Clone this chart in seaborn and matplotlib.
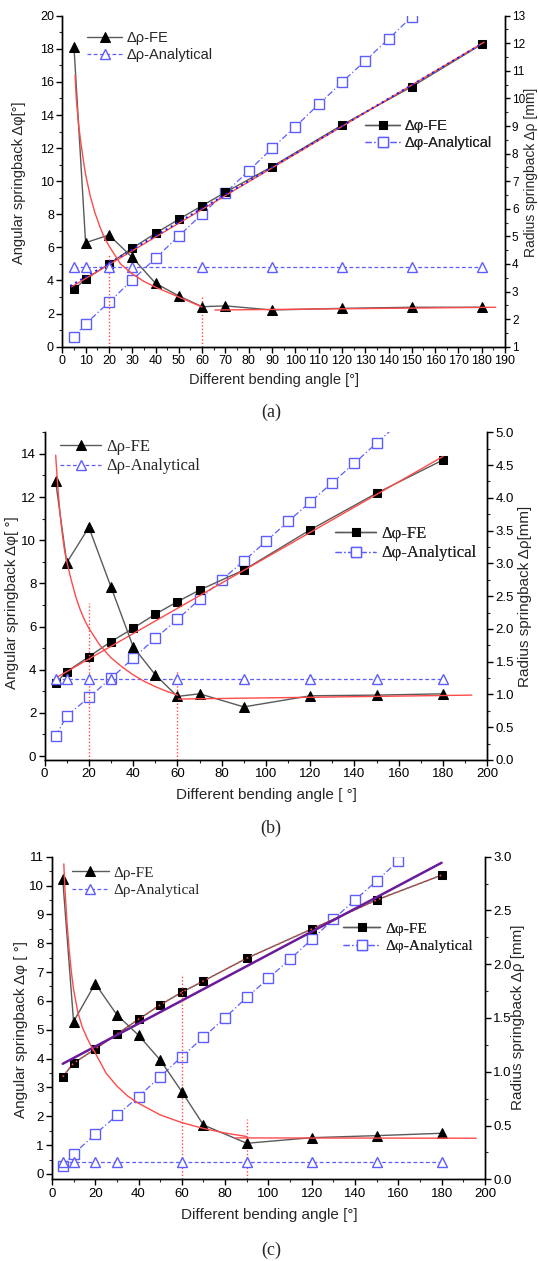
import matplotlib
matplotlib.use("Agg")
import matplotlib.pyplot as plt
import seaborn as sns
from matplotlib.ticker import MultipleLocator

sns.set_style("ticks")
plt.rcParams['font.family'] = ['Liberation Sans', 'DejaVu Sans']

W, H = 538, 1261

# ---------------- data ----------------
ANG_FE = [5, 10, 20, 30, 40, 50, 60, 70, 90, 120, 150, 180]
ANG_RHO_AN = [5, 10, 20, 30, 60, 90, 120, 150, 180]

# panel (a)
a_phi_fe = [3.47, 4.07, 5.00, 5.95, 6.85, 7.70, 8.52, 9.33, 10.88, 13.39, 15.71, 18.27]
a_phi_an_ang = [5, 10, 20, 30, 40, 50, 60, 70, 80, 90, 100, 110, 120, 130, 140, 150]
a_phi_an = [0.60, 1.38, 2.68, 4.03, 5.34, 6.69, 8.02, 9.30, 10.63, 11.98, 13.29, 14.64,
            15.97, 17.28, 18.59, 19.94]
a_rho_fe = [11.88, 4.77, 5.05, 4.24, 3.30, 2.84, 2.45, 2.48, 2.33, 2.39, 2.43, 2.43]
a_rho_an = [3.90, 3.90, 3.90, 3.90, 3.90, 3.90, 3.90, 3.90, 3.90]
a_rho_fit_ang = [5.5, 6, 7, 8, 9, 10, 12, 14, 16, 18, 20, 25, 30, 35, 40, 45, 50, 55, 60]
a_rho_fit = [10.84, 10.0, 9.04, 8.38, 7.78, 7.24, 6.46, 5.86, 5.38, 4.96, 4.66, 4.0, 3.64,
             3.37, 3.16, 2.98, 2.8, 2.62, 2.44]
a_rho_tail_ang = [65.5, 186]
a_rho_tail = [2.33, 2.43]
a_phi_fit_ang = [4, 181]
a_phi_fit = [3.62, 18.4]
a_phi_fit2_ang = [3.4, 180]
a_phi_fit2 = [3.67, 18.3]
a_vline_ang = [20, 60]
a_vline_top = [5.54, 3.12]

# panel (b)
b_phi_fe = [3.37, 3.91, 4.60, 5.30, 5.92, 6.57, 7.15, 7.69, 8.62, 10.48, 12.18, 13.72]
b_phi_an_ang = [5, 10, 20, 30, 40, 50, 60, 70, 80, 90, 100, 110, 120, 130, 140, 150, 160]
b_phi_an = [0.93, 1.85, 2.72, 3.60, 4.53, 5.45, 6.33, 7.26, 8.16, 9.04, 9.94, 10.87, 11.76,
            12.67, 13.57, 14.50, 15.42]
b_rho_fe = [4.25, 3.01, 3.55, 2.64, 1.73, 1.30, 0.97, 1.01, 0.81, 0.98, 0.99, 1.01]
b_rho_an = [1.23, 1.23, 1.23, 1.23, 1.23, 1.23, 1.23, 1.23, 1.23]
b_rho_fit_ang = [5, 6, 7, 8, 9, 10, 12, 14, 16, 18, 20, 25, 30, 35, 40, 45, 50, 55, 60]
b_rho_fit = [4.65, 4.15, 3.75, 3.45, 3.2, 3.03, 2.75, 2.5, 2.3, 2.14, 2.01, 1.75, 1.56,
             1.42, 1.30, 1.2, 1.12, 1.05, 0.99]
b_rho_tail_ang = [60.5, 193]
b_rho_tail = [0.93, 0.99]
b_phi_fit_ang = [4.7, 180]
b_phi_fit = [3.6, 13.88]
b_vline_ang = [20, 60]
b_vline_top = [7.1, 3.95]

# panel (c)
c_phi_fe = [3.37, 3.84, 4.33, 4.85, 5.36, 5.86, 6.30, 6.69, 7.48, 8.49, 9.50, 10.36]
c_phi_an_ang = [5, 10, 20, 30, 40, 50, 60, 70, 80, 90, 100, 110, 120, 130, 140, 150, 160]
c_phi_an = [0.28, 0.69, 1.38, 2.03, 2.68, 3.37, 4.07, 4.74, 5.42, 6.12, 6.78, 7.45, 8.13,
            8.83, 9.50, 10.16, 10.85]
c_rho_fe = [2.79, 1.466, 1.82, 1.53, 1.34, 1.11, 0.815, 0.505, 0.335, 0.387, 0.406, 0.428]
c_rho_an = [0.164, 0.164, 0.164, 0.164, 0.164, 0.164, 0.164, 0.164, 0.164]
c_rho_fit_ang = [5.5, 6, 7, 8, 9, 10, 12, 14, 16, 18, 20, 25, 30, 35, 40, 50, 60, 70, 80, 90]
c_rho_fit = [2.933, 2.705, 2.383, 2.128, 1.927, 1.766, 1.552, 1.417, 1.324, 1.243, 1.176,
             0.988, 0.868, 0.774, 0.707, 0.599, 0.527, 0.473, 0.430, 0.398]
c_rho_tail_ang = [85, 196]
c_rho_tail = [0.385, 0.382]
c_phi_lin_ang = [5, 180]
c_phi_lin = [3.82, 10.79]
c_vline_ang = [60, 90]
c_vline_top = [6.93, 1.9]

LEG_RHO = ["Δρ-FE", "Δρ-Analytical"]
LEG_PHI = ["Δφ-FE", "Δφ-Analytical"]

# ---------------- styles ----------------
GRAY = "#5a5a5a"
BLUE = "#5c5cff"
RED = "#ff4a4a"

fig = plt.figure(figsize=(W / 100, H / 100), dpi=100)


def fx(px):
    return px / W


def fy(py):
    return 1 - py / H


def rect(l, t, r, b):
    return [fx(l), fy(b), (r - l) / W, (b - t) / H]


def line(ax, x, y, **kw):
    sns.lineplot(x=x, y=y, ax=ax, sort=False, estimator=None, legend=False, **kw)
    return ax.get_lines()[-1]


def panel(r, xlim, xmaj, xmin, ylim, ymaj, ymin, y2lim, y2maj, y2min, fmt2, lsize=9.5):
    ax = fig.add_axes(rect(*r))
    ax2 = ax.twinx()
    ax.set_xlim(*xlim)
    ax.set_ylim(*ylim)
    ax2.set_ylim(*y2lim)
    ax.xaxis.set_major_locator(MultipleLocator(xmaj))
    ax.xaxis.set_minor_locator(MultipleLocator(xmin))
    ax.yaxis.set_major_locator(MultipleLocator(ymaj))
    ax.yaxis.set_minor_locator(MultipleLocator(ymin))
    ax2.yaxis.set_major_locator(MultipleLocator(y2maj))
    ax2.yaxis.set_minor_locator(MultipleLocator(y2min))
    if fmt2:
        ax2.yaxis.set_major_formatter(matplotlib.ticker.FormatStrFormatter(fmt2))
    for a in (ax, ax2):
        a.spines['top'].set_visible(False)
        for s in a.spines.values():
            s.set_linewidth(1.0)
            s.set_color('black')
        a.tick_params(which='major', direction='out', length=4, width=1,
                      labelsize=lsize, pad=2, colors='black')
        a.tick_params(which='minor', direction='out', length=2.5, width=0.8)
    ax.set_facecolor('white')
    return ax, ax2


def draw(ax, ax2, phi_fe, phi_an_ang, phi_an, rho_fe, rho_an):
    h_phi_an = line(ax, phi_an_ang, phi_an, color=BLUE, lw=0.9, linestyle=(0, (5, 2, 1, 2)),
                    marker='s', markersize=6.5, mfc='white', mec=BLUE, mew=1.0)
    h_phi_fe = line(ax, ANG_FE, phi_fe, color=GRAY, lw=1.0, marker='s', markersize=6,
                    mfc='black', mec='black')
    h_rho_an = line(ax2, ANG_RHO_AN, rho_an, color=BLUE, lw=0.9, linestyle=(0, (3, 2)),
                    marker='^', markersize=7.5, mfc='white', mec=BLUE, mew=1.0)
    h_rho_fe = line(ax2, ANG_FE, rho_fe, color=GRAY, lw=1.0, marker='^', markersize=7.5,
                    mfc='black', mec='black')
    return h_rho_fe, h_rho_an, h_phi_fe, h_phi_an


def legend(ax, handles, labels, x, y1, y2, size, family, hpx, padpx):
    fs = size * 100 / 72
    leg = ax.legend(handles, labels, loc='center left',
                    bbox_to_anchor=(fx(x), fy((y1 + y2) / 2)), bbox_transform=fig.transFigure,
                    frameon=False, borderpad=0, borderaxespad=0, numpoints=1,
                    handlelength=hpx / fs, handletextpad=padpx / fs,
                    labelspacing=max((y2 - y1) - 1.15 * fs, 0) / fs,
                    prop={'family': family, 'size': size})
    ax.add_artist(leg)


def labels(ax, ax2, xl, xpos, yl, ypos, y2l, y2pos, size, size2=None):
    ax.set_xlabel(xl, fontsize=size, va='center', ha='center')
    ax.xaxis.set_label_coords(fx(xpos[0]), fy(xpos[1]), transform=fig.transFigure)
    ax.set_ylabel(yl, fontsize=size, va='center', ha='center')
    ax.yaxis.set_label_coords(fx(ypos[0]), fy(ypos[1]), transform=fig.transFigure)
    ax2.set_ylabel(y2l, fontsize=size2 or size, va='center', ha='center', rotation=90)
    ax2.yaxis.set_label_coords(fx(y2pos[0]), fy(y2pos[1]), transform=fig.transFigure)


# ================= panel (a) =================
ax, ax2 = panel((62.3, 15.7, 505, 346.7), (0, 190), 10, 5, (0, 20), 2, 1, (1, 13), 1, 0.5, None,
                lsize=9)
ax2.tick_params(which='major', pad=1.5, length=3.5, labelsize=8.5)
ax2.tick_params(which='minor', length=2.2)
h = draw(ax, ax2, a_phi_fe, a_phi_an_ang, a_phi_an, a_rho_fe, a_rho_an)
line(ax, a_phi_fit_ang, a_phi_fit, color=RED, lw=1.0)
line(ax, a_phi_fit2_ang, a_phi_fit2, color='#1a1aff', lw=1.4, linestyle=(0, (1, 2)))
line(ax2, a_rho_fit_ang, a_rho_fit, color=RED, lw=1.0)
line(ax2, a_rho_tail_ang, a_rho_tail, color=RED, lw=1.0)
ax.vlines(a_vline_ang, 0, a_vline_top, colors=RED, linestyles=(0, (1, 1.5)), lw=1.0)
legend(ax2, h[:2], LEG_RHO, 87, 36.7, 56, 10.5, 'Liberation Sans', 35, 5)
legend(ax2, h[2:], LEG_PHI, 365, 125, 144, 10.5, 'Liberation Sans', 35, 5)
labels(ax, ax2, "Different bending angle [°]", (274, 380), "Angular springback Δφ[°]", (19, 183),
       "Radius springback Δρ [mm]", (531, 172), 10.5, size2=10)
fig.text(fx(271), fy(412), "(a)", family='Liberation Serif', fontsize=13, ha='center', va='center')

# ================= panel (b) =================
ax, ax2 = panel((44.6, 432.3, 487.3, 760), (0, 200), 20, 10, (-0.185, 15), 2, 1, (0, 5), 0.5, 0.25, '%.1f')
h = draw(ax, ax2, b_phi_fe, b_phi_an_ang, b_phi_an, b_rho_fe, b_rho_an)
line(ax, b_phi_fit_ang, b_phi_fit, color=RED, lw=1.0)
line(ax2, b_rho_fit_ang, b_rho_fit, color=RED, lw=1.0)
line(ax2, b_rho_tail_ang, b_rho_tail, color=RED, lw=1.0)
ax.vlines(b_vline_ang, -0.185, b_vline_top, colors=RED, linestyles=(0, (1, 1.5)), lw=1.0)
legend(ax2, h[:2], LEG_RHO, 60, 445, 468, 12, 'Liberation Serif', 41, 5)
legend(ax2, h[2:], LEG_PHI, 335, 532, 555, 12, 'Liberation Serif', 41, 5)
labels(ax, ax2, "Different bending angle [ °]", (266, 795), "Angular springback Δφ[ °]", (12, 603),
       "Radius springback Δρ[mm]", (525, 596), 11)
fig.text(fx(271), fy(828), "(b)", family='Liberation Serif', fontsize=13, ha='center', va='center')

# ================= panel (c) =================
ax, ax2 = panel((51.9, 856.7, 484.9, 1179.3), (0, 200), 20, 10, (-0.185, 11), 1, 0.5, (0, 3), 0.5, 0.25, '%.1f')
h = draw(ax, ax2, c_phi_fe, c_phi_an_ang, c_phi_an, c_rho_fe, c_rho_an)
line(ax, ANG_FE, c_phi_fe, color=RED, lw=1.2, linestyle=(0, (1, 2)))
line(ax, c_phi_lin_ang, c_phi_lin, color='#6a1b9a', lw=1.8)
line(ax2, c_rho_fit_ang, c_rho_fit, color=RED, lw=1.0)
line(ax2, c_rho_tail_ang, c_rho_tail, color=RED, lw=1.0)
ax.vlines(c_vline_ang, -0.185, c_vline_top, colors=RED, linestyles=(0, (1, 1.5)), lw=1.0)
legend(ax2, h[:2], LEG_RHO, 71.5, 871, 892, 11, 'Liberation Serif', 37, 5)
legend(ax2, h[2:], LEG_PHI, 343, 927, 948, 11, 'Liberation Serif', 37, 5)
labels(ax, ax2, "Different bending angle [°]", (269, 1215), "Angular springback Δφ [ °]", (21, 1030),
       "Radius springback Δρ [mm]", (518, 1017), 11)
fig.text(fx(271), fy(1250), "(c)", family='Liberation Serif', fontsize=13, ha='center', va='center')

fig.savefig("out.png", dpi=100)
